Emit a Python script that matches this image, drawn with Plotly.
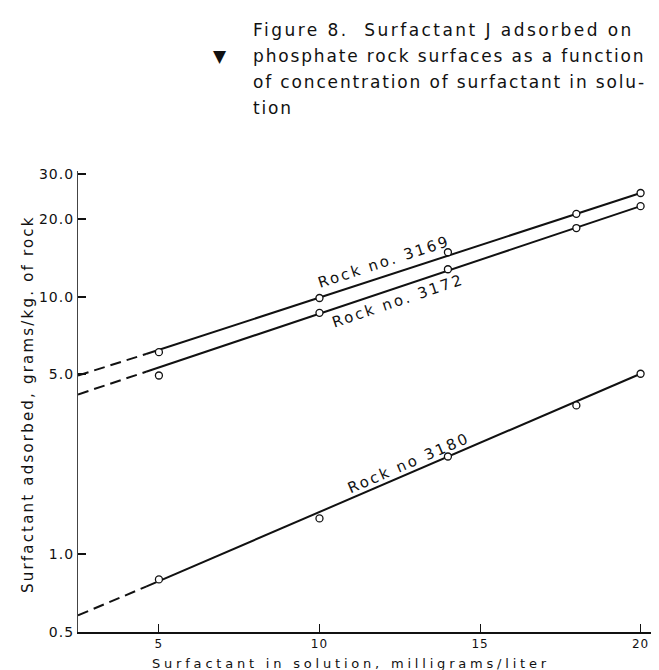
import math
import plotly.graph_objects as go

# ---------------- data ----------------
x_conc = [5, 10, 14, 18, 20]
rock_3169 = [6.1, 9.9, 14.9, 21.0, 25.3]
rock_3172 = [4.95, 8.67, 12.8, 18.5, 22.5]
rock_3180 = [0.80, 1.38, 2.40, 3.79, 5.03]

# fitted lines: value at left axis, at end of dashed part, at x=20
line_x = [2.48, 4.6, 20]
line_3169 = [4.95, 6.0, 25.3]
line_3172 = [4.18, 5.12, 22.5]
line_3180 = [0.58, 0.75, 5.03]

x_ticks = [5, 10, 15, 20]
x_tick_text = ["5", "10", "15", "20"]
y_ticks = [0.5, 1.0, 5.0, 10.0, 20.0, 30.0]
y_tick_text = ["0.5", "1.0", "5.0", "10.0", "20.0", "30.0"]

rock_labels = ["Rock no. 3169", "Rock no. 3172", "Rock no 3180"]
title_lines = [
    "Figure 8.  Surfactant J adsorbed on",
    "phosphate rock surfaces as a function",
    "of concentration of surfactant in solu-",
    "tion",
]
x_title = "Surfactant in solution, milligrams/liter"
y_title = "Surfactant adsorbed, grams/kg. of rock"

# ---------------- layout geometry ----------------
W, H = 659, 670
L, R, T, B = 70, 648, 163, 624
FONT = "DejaVu Sans"
INK = "#111111"


def pxx(xp):
    return (xp - L) / (R - L)


def pxy(yp):
    return (B - yp) / (B - T)


def spaced(text, sp):
    return '<span style="letter-spacing:%.2fpx">%s</span>' % (sp, text)


fig = go.Figure()

series = [(rock_3169, line_3169), (rock_3172, line_3172), (rock_3180, line_3180)]
for pts, ln in series:
    fig.add_trace(go.Scatter(x=line_x[:2], y=ln[:2], mode="lines",
                             line=dict(color=INK, width=2, dash="11px,6px"),
                             hoverinfo="skip", showlegend=False))
    fig.add_trace(go.Scatter(x=line_x[1:], y=ln[1:], mode="lines",
                             line=dict(color=INK, width=2),
                             hoverinfo="skip", showlegend=False))
    fig.add_trace(go.Scatter(x=x_conc, y=pts, mode="markers",
                             marker=dict(symbol="circle", size=7, color="white",
                                         line=dict(color=INK, width=1.3)),
                             showlegend=False))

annotations = []
# title lines (justified block)
title_y = [22, 48, 74, 100]
title_sp = [2.45, 1.85, 1.85, 1.85]
for txt, yy, sp in zip(title_lines, title_y, title_sp):
    annotations.append(dict(text=spaced(txt, sp), xref="paper", yref="paper",
                            x=pxx(243), y=pxy(yy), xanchor="left", yanchor="middle",
                            showarrow=False, font=dict(family=FONT, size=17, color=INK)))
annotations.append(dict(text="▼", xref="paper", yref="paper", x=pxx(212), y=pxy(48),
                        xanchor="center", yanchor="middle", showarrow=False,
                        font=dict(family=FONT, size=17, color=INK)))

# curve labels
lab_pos = [(12.0, 1.1357, -18.0), (12.44, 0.9845, -18.6), (12.78, 0.3566, -23.3)]
for txt, (lx, ly, ang) in zip(rock_labels, lab_pos):
    annotations.append(dict(text=spaced(txt, 2.4), xref="x", yref="y", x=lx, y=ly,
                            textangle=ang, showarrow=False, xanchor="center",
                            yanchor="middle", font=dict(family=FONT, size=15, color=INK)))

# axis titles
annotations.append(dict(text=spaced(x_title, 3.8), xref="paper", yref="paper",
                        x=pxx(343), y=pxy(655), xanchor="center", yanchor="middle",
                        showarrow=False, font=dict(family=FONT, size=13, color=INK)))
annotations.append(dict(text=spaced(y_title, 2.2), xref="paper", yref="paper",
                        x=pxx(20), y=pxy(396), xanchor="center", yanchor="middle",
                        textangle=-90, showarrow=False,
                        font=dict(family=FONT, size=15, color=INK)))

fig.update_layout(
    width=W, height=H,
    margin=dict(l=L, r=W - R, t=T, b=H - B, pad=0),
    paper_bgcolor="white", plot_bgcolor="white",
    font=dict(family=FONT, size=14, color=INK),
    annotations=annotations,
    showlegend=False,
)
fig.update_xaxes(range=[2.48, 20.48], tickvals=x_ticks,
                 ticktext=[spaced(t, 1.0) for t in x_tick_text],
                 ticks="inside", ticklen=8, tickwidth=1.2, tickcolor=INK,
                 showline=True, linecolor=INK, linewidth=1.5, showgrid=False,
                 zeroline=False, tickfont=dict(family=FONT, size=12, color=INK))
fig.update_yaxes(type="log", range=[math.log10(0.5), math.log10(30.8)],
                 tickvals=y_ticks, ticktext=[spaced(t, 1.0) for t in y_tick_text],
                 ticks="inside", ticklen=8, tickwidth=1.5, tickcolor=INK,
                 showline=True, linecolor="#444444", linewidth=1.2, showgrid=False,
                 zeroline=False, tickfont=dict(family=FONT, size=14, color=INK))

fig.write_html("out.html")
